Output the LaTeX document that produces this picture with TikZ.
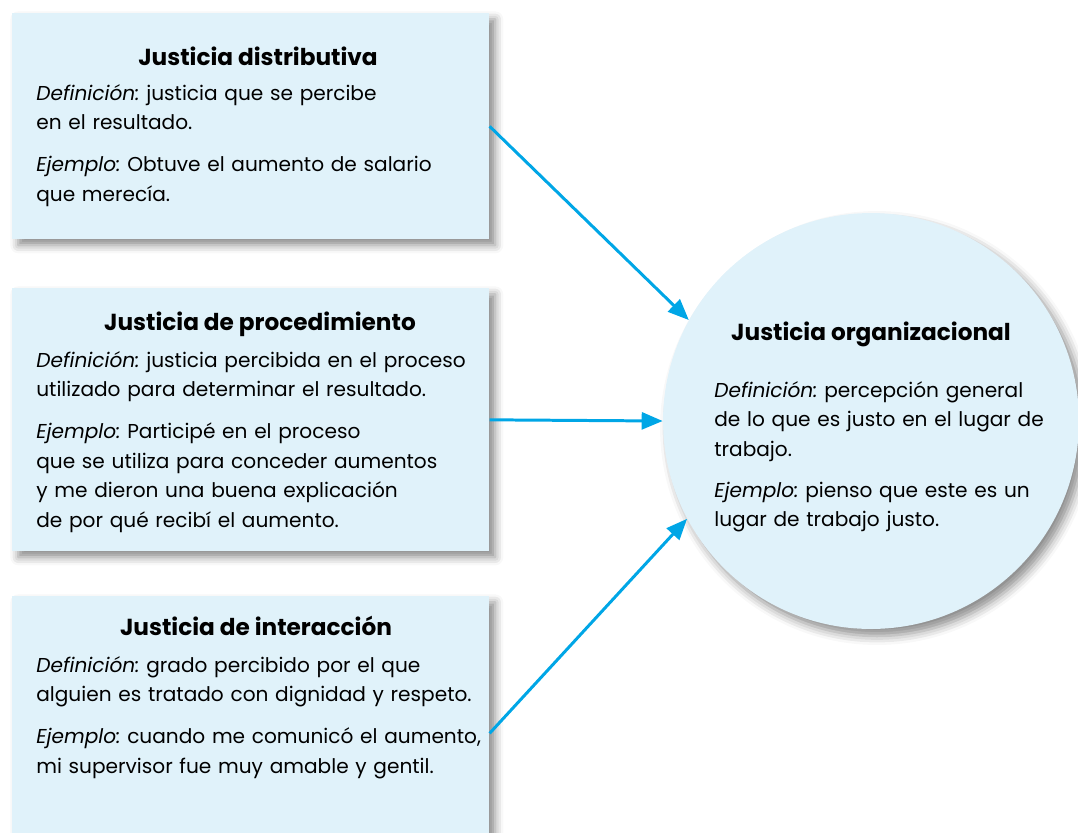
\documentclass[tikz,border=0pt]{standalone}
\usepackage{fontspec}
\setmainfont{Poppins}
\usepackage{xcolor}
\usepackage{tikz}
\usetikzlibrary{arrows.meta}
\usetikzlibrary{shadows.blur}
\definecolor{fondo}{RGB}{224,242,250}
\definecolor{azul}{RGB}{0,166,230}
\frenchspacing
\tikzset{
	caja/.style={
			fill=fondo, draw=none, inner sep=0pt, anchor=north west, minimum width=9.54cm,
			blur shadow={shadow xshift=1.2mm, shadow yshift=-1.2mm, shadow blur radius=1.6mm, shadow opacity=45}
		},
	bola/.style={
			circle, fill=fondo, draw=none, inner sep=0pt, minimum size=8.32cm,
			blur shadow={shadow xshift=1.2mm, shadow yshift=-1.4mm, shadow blur radius=1.8mm, shadow opacity=45}
		},
	titulo/.style={anchor=base, inner sep=0pt, font=\fontsize{13.2pt}{16.8pt}\selectfont\bfseries},
	cuerpo/.style={anchor=base west, inner sep=0pt, align=left, text width=#1, font=\fontsize{11.45pt}{16.8pt}\selectfont},
	flecha/.style={azul, line width=1.7pt, -{Triangle[length=0.42cm, width=0.34cm]}}
}

\begin{document}
\begin{tikzpicture}[x=0.02cm, y=-0.02cm]
		\useasboundingbox (0,0) rectangle (1078,832);
		\node[caja, minimum height=4.52cm] (dist) at (12,13) {};
		\node[caja, minimum height=5.26cm] (proc) at (12,288) {};
		\node[caja, minimum height=5.48cm] (inter) at (12,596) {};
		\node[bola] (org) at (871,421) {};
		\node[titulo] (distT) at (258,65) {Justicia distributiva};
		\node[cuerpo=9.3cm] (distC) at (36,100) {\textit{Definición:} justicia que se percibe\\en el resultado.\\[0.25cm]\textit{Ejemplo:} Obtuve el aumento de salario\\que merecía.};
		\node[titulo] (procT) at (260,330) {Justicia de procedimiento};
		\node[cuerpo=9.3cm] (procC) at (36,367) {\textit{Definición:} justicia percibida en el proceso\\utilizado para determinar el resultado.\\[0.25cm]\textit{Ejemplo:} Participé en el proceso\\que se utiliza para conceder aumentos\\y me dieron una buena explicación\\de por qué recibí el aumento.};
		\node[titulo] (interT) at (256,635) {Justicia de interacción};
		\node[cuerpo=9.3cm] (interC) at (36,672) {\textit{Definición:} grado percibido por el que\\alguien es tratado con dignidad y respeto.\\[0.25cm]\textit{Ejemplo:} cuando me comunicó el aumento,\\mi supervisor fue muy amable y gentil.};
		\node[titulo] (orgT) at (871,340) {Justicia organizacional};
		\node[cuerpo=7.2cm] (orgC) at (714,397) {\textit{Definición:} percepción general\\de lo que es justo en el lugar de\\trabajo.\\[0.23cm]\textit{Ejemplo:} pienso que este es un\\lugar de trabajo justo.};
		\draw[flecha] (dist.east) -- (org.151.5);
		\draw[flecha] (proc.east) -- (org.west);
		\draw[flecha] (inter.east) -- (org.208.5);
	\end{tikzpicture}
\end{document}
